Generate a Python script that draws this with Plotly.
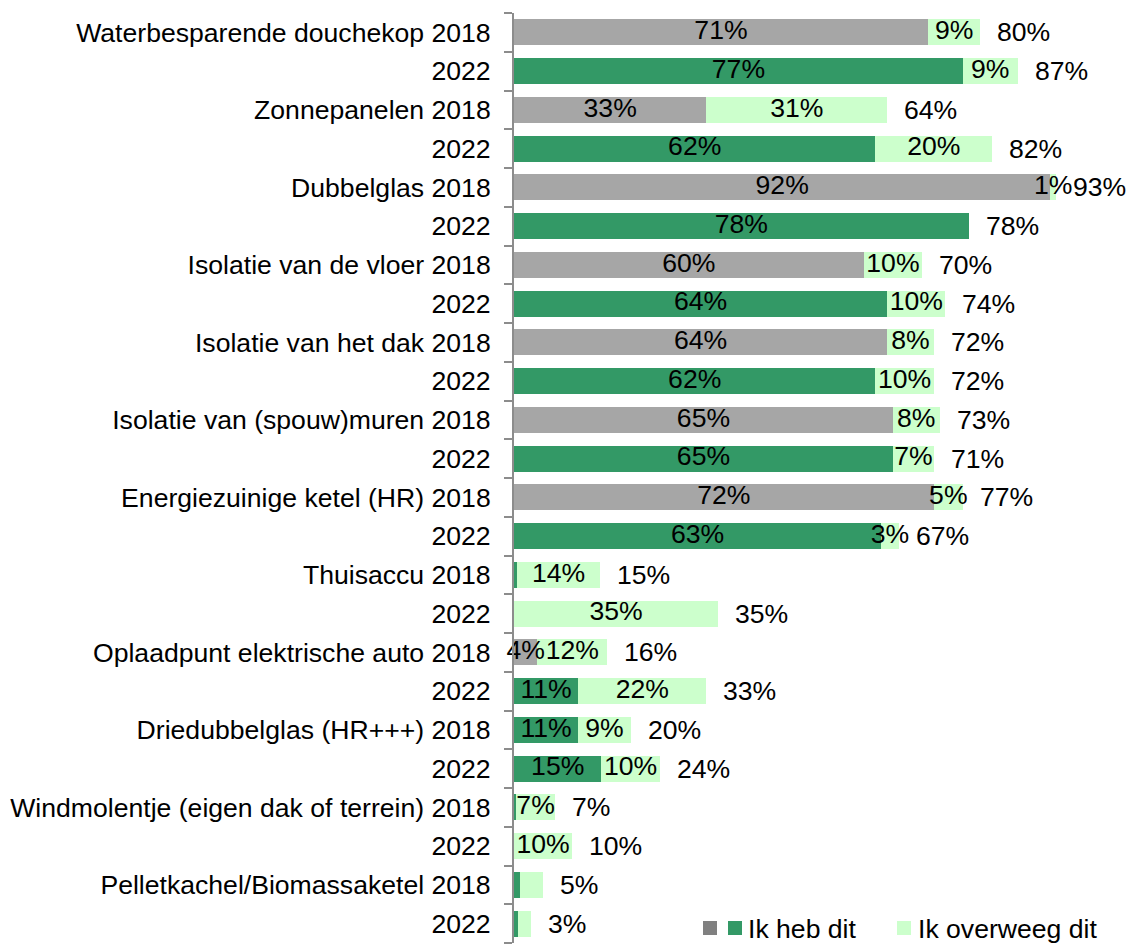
import plotly.graph_objects as go

# ---- data ----
maatregelen = [
    "Waterbesparende douchekop", "Zonnepanelen", "Dubbelglas",
    "Isolatie van de vloer", "Isolatie van het dak", "Isolatie van (spouw)muren",
    "Energiezuinige ketel (HR)", "Thuisaccu", "Oplaadpunt elektrische auto",
    "Driedubbelglas (HR+++)", "Windmolentje (eigen dak of terrein)",
    "Pelletkachel/Biomassaketel",
]
jaren = ["2018", "2022"]

# "Ik heb dit" (per row, 2018 then 2022 for each measure)
heb_dit = [71, 77, 33, 62, 92, 78, 60, 64, 64, 62, 65, 65,
           72, 63, 0.5, 0, 4, 11, 11, 15, 0.4, 0, 1, 0.7]
# "Ik overweeg dit"
overweeg_dit = [9, 9.4, 31, 20, 1, 0, 10, 10, 8, 10, 8, 7,
                5, 3, 14.3, 35, 12, 22, 9, 10, 6.6, 10, 4, 2.3]
# reported totals
totaal = [80, 87, 64, 82, 93, 78, 70, 74, 72, 72, 73, 71,
          77, 67, 15, 35, 16, 33, 20, 24, 7, 10, 5, 3]
# rows drawn in grey for "Ik heb dit"
grijze_rijen = [0, 2, 4, 6, 8, 10, 12, 16]
# rows without segment labels
zonder_label = [22, 23]

# ---- derived ----
rij_labels = []
for m in maatregelen:
    rij_labels.append(f"{m} {jaren[0]}")
    rij_labels.append(jaren[1])
rows = list(range(len(rij_labels)))

GREY = "#A6A6A6"
GREEN = "#339966"
LIGHT = "#CCFFCC"
AXIS = "#8C8C8C"
FONT = "Liberation Sans, Arial, sans-serif"
FS = 26.6

kleur_heb = [GREY if i in grijze_rijen else GREEN for i in rows]


def seg_label(v, i):
    if i in zonder_label or v < 1:
        return ""
    return f"{v:.0f}%"


fig = go.Figure()
fig.add_trace(go.Bar(
    y=rows, x=heb_dit, orientation="h", name="Ik heb dit",
    marker=dict(color=kleur_heb, line=dict(width=0)),
    showlegend=False, hoverinfo="skip",
))
fig.add_trace(go.Bar(
    y=rows, x=overweeg_dit, orientation="h", name="Ik overweeg dit",
    marker=dict(color=LIGHT, line=dict(width=0)),
    showlegend=False, hoverinfo="skip",
))

# segment labels at the centre of each segment
fig.add_trace(go.Scatter(
    y=rows, x=[v / 2 for v in heb_dit], mode="text",
    text=[seg_label(v, i) for i, v in enumerate(heb_dit)],
    textposition="middle center", cliponaxis=False,
    textfont=dict(family=FONT, size=FS, color="#000000"),
    showlegend=False, hoverinfo="skip",
))
fig.add_trace(go.Scatter(
    y=rows, x=[h + o / 2 for h, o in zip(heb_dit, overweeg_dit)], mode="text",
    text=[seg_label(v, i) for i, v in enumerate(overweeg_dit)],
    textposition="middle center", cliponaxis=False,
    textfont=dict(family=FONT, size=FS, color="#000000"),
    showlegend=False, hoverinfo="skip",
))

# total labels
for i in rows:
    fig.add_annotation(
        x=heb_dit[i] + overweeg_dit[i], y=i, xref="x", yref="y",
        text=f"{totaal[i]}%", showarrow=False, xanchor="left", yanchor="middle",
        xshift=15, font=dict(family=FONT, size=FS, color="#000000"),
    )

W, H = 1129, 947
ML, MR, MT, MB = 514, 32, 13, 4
PW, PH = W - ML - MR, H - MT - MB


def px_x(p):
    return (p - ML) / PW


def px_y(p):
    return (H - MB - p) / PH


# manual legend
LEG_Y = 928  # vertical centre of the legend row (pixels)
legend_items = [(703, "#808080"), (728, GREEN), (897, LIGHT)]
for x0, col in legend_items:
    fig.add_shape(type="rect", xref="paper", yref="paper",
                  x0=px_x(x0), x1=px_x(x0 + 14), y0=px_y(LEG_Y + 7), y1=px_y(LEG_Y - 7),
                  fillcolor=col, line=dict(width=0))
for x0, txt in [(746, "Ik heb dit"), (916, "Ik overweeg dit")]:
    fig.add_annotation(x=px_x(x0), y=px_y(LEG_Y + 1), xref="paper", yref="paper",
                       text=txt, showarrow=False, xanchor="left", yanchor="middle",
                       font=dict(family=FONT, size=FS, color="#000000"))

fig.update_layout(
    width=W, height=H,
    margin=dict(l=ML, r=MR, t=MT, b=MB, pad=0),
    barmode="stack", bargap=0.33,
    plot_bgcolor="white", paper_bgcolor="white",
    font=dict(family=FONT, size=FS, color="#000000"),
    xaxis=dict(range=[0, 100], visible=False, fixedrange=True),
    yaxis=dict(
        range=[len(rows) - 0.5, -0.5], tickmode="array", tickvals=rows,
        ticktext=rij_labels, showgrid=False, zeroline=False,
        showline=True, linecolor=AXIS, linewidth=2,
        ticks="outside", ticklen=10, tickcolor="rgba(0,0,0,0)",
        ticklabelstandoff=6,
        tickfont=dict(family=FONT, size=FS, color="#000000"),
        minor=dict(tickmode="array", tickvals=[i - 0.5 for i in range(len(rows) + 1)],
                   ticks="outside", ticklen=8, tickcolor=AXIS, tickwidth=2),
        fixedrange=True,
    ),
)

fig.write_html(
    "out.html",
    config={"displayModeBar": False},
    post_script="document.body.style.margin='0';document.body.style.overflow='hidden';",
)
